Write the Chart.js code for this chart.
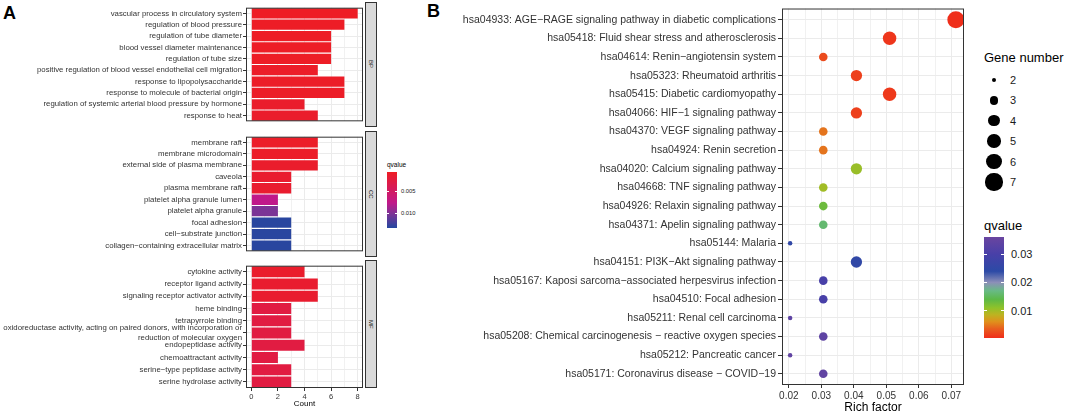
<!DOCTYPE html>
<html>
<head>
<meta charset="utf-8">
<script src="https://cdn.jsdelivr.net/npm/chart.js@4.4.1/dist/chart.umd.min.js"></script>
<style>
  body { margin: 0; background: #fff; font-family: "Liberation Sans", Arial, sans-serif; }
  #page { position: relative; width: 1065px; height: 415px; overflow: hidden; background: #fff; }
  canvas { position: absolute; }
  .abs { position: absolute; white-space: nowrap; line-height: 1; }
  .tag { font-weight: bold; font-size: 18px; color: #000; }
  .strip { position: absolute; background: #d9d9d9; border: 1px solid #333; box-sizing: border-box;
           display: flex; align-items: center; justify-content: center; }
  .strip span { writing-mode: vertical-rl; font-size: 6px; color: #1a1a1a; }
</style>
</head>
<body>
<div id="page">
  <div class="abs tag" style="left:3px;top:4px;">A</div>
  <div class="abs tag" style="left:427px;top:2px;">B</div>

  <canvas id="cvBP" width="380" height="125" style="left:0;top:2px;"></canvas>
  <canvas id="cvCC" width="380" height="126" style="left:0;top:131px;"></canvas>
  <canvas id="cvMF" width="380" height="149" style="left:0;top:260px;"></canvas>
  <div class="strip" style="left:365px;top:2px;width:12px;height:125px;"><span>BP</span></div>
  <div class="strip" style="left:365px;top:131px;width:12px;height:126px;"><span>CC</span></div>
  <div class="strip" style="left:365px;top:260px;width:12px;height:128px;"><span>MF</span></div>

  <canvas id="cvKegg" width="560" height="415" style="left:420px;top:0;"></canvas>
</div>
<script>
/*----------------------------------------------------------------------------*/
/* Data                                                                       */
/*----------------------------------------------------------------------------*/
// Panel A: GO terms, gene count and qvalue per facet
const bpTerms = ["vascular process in circulatory system", "regulation of blood pressure",
    "regulation of tube diameter", "blood vessel diameter maintenance", "regulation of tube size",
    "positive regulation of blood vessel endothelial cell migration", "response to lipopolysaccharide",
    "response to molecule of bacterial origin", "regulation of systemic arterial blood pressure by hormone",
    "response to heat"];
const bpCounts = [8, 7, 6, 6, 6, 5, 7, 7, 4, 5];
const bpQ = [0.0005, 0.0006, 0.0006, 0.0006, 0.0006, 0.0008, 0.0007, 0.0007, 0.0010, 0.0010];

const ccTerms = ["membrane raft", "membrane microdomain", "external side of plasma membrane", "caveola",
    "plasma membrane raft", "platelet alpha granule lumen", "platelet alpha granule", "focal adhesion",
    "cell\u2212substrate junction", "collagen\u2212containing extracellular matrix"];
const ccCounts = [5, 5, 5, 3, 3, 2, 2, 3, 3, 3];
const ccQ = [0.0008, 0.0008, 0.0010, 0.0012, 0.0012, 0.0075, 0.0100, 0.0130, 0.0130, 0.0130];

const mfTerms = ["cytokine activity", "receptor ligand activity", "signaling receptor activator activity",
    "heme binding", "tetrapyrrole binding",
    ["oxidoreductase activity, acting on paired donors, with incorporation or", "reduction of molecular oxygen"],
    "endopeptidase activity", "chemoattractant activity", "serine\u2212type peptidase activity",
    "serine hydrolase activity"];
const mfCounts = [4, 5, 5, 3, 3, 3, 4, 2, 3, 3];
const mfQ = [0.0010, 0.0012, 0.0012, 0.0025, 0.0025, 0.0025, 0.0025, 0.0025, 0.0025, 0.0025];

const countTicks = [0, 2, 4, 6, 8];
const qTicksA = [0.005, 0.010];

// Panel B: KEGG pathways
const keggTerms = ["hsa04933: AGE\u2212RAGE signaling pathway in diabetic complications",
    "hsa05418: Fluid shear stress and atherosclerosis", "hsa04614: Renin\u2212angiotensin system",
    "hsa05323: Rheumatoid arthritis", "hsa05415: Diabetic cardiomyopathy", "hsa04066: HIF\u22121 signaling pathway",
    "hsa04370: VEGF signaling pathway", "hsa04924: Renin secretion", "hsa04020: Calcium signaling pathway",
    "hsa04668: TNF signaling pathway", "hsa04926: Relaxin signaling pathway", "hsa04371: Apelin signaling pathway",
    "hsa05144: Malaria", "hsa04151: PI3K\u2212Akt signaling pathway",
    "hsa05167: Kaposi sarcoma\u2212associated herpesvirus infection", "hsa04510: Focal adhesion",
    "hsa05211: Renal cell carcinoma", "hsa05208: Chemical carcinogenesis \u2212 reactive oxygen species",
    "hsa05212: Pancreatic cancer", "hsa05171: Coronavirus disease \u2212 COVID\u221219"];
const richFactor = [0.0714, 0.0510, 0.0306, 0.0408, 0.0510, 0.0408, 0.0306, 0.0306, 0.0408, 0.0306,
    0.0306, 0.0306, 0.0204, 0.0408, 0.0306, 0.0306, 0.0204, 0.0306, 0.0204, 0.0306];
const geneNumber = [7, 5, 3, 4, 5, 4, 3, 3, 4, 3, 3, 3, 2, 4, 3, 3, 2, 3, 2, 3];
const keggQ = [0.0003, 0.0008, 0.0022, 0.0015, 0.0010, 0.0015, 0.0046, 0.0046, 0.0104, 0.0100,
    0.0130, 0.0160, 0.0250, 0.0250, 0.0300, 0.0300, 0.0340, 0.0340, 0.0345, 0.0345];

const richTicks = [0.02, 0.03, 0.04, 0.05, 0.06, 0.07];
const geneLegend = [2, 3, 4, 5, 6, 7];
const qTicksB = [0.01, 0.02, 0.03];

/*----------------------------------------------------------------------------*/
/* Colour scales                                                              */
/*----------------------------------------------------------------------------*/
const stopsA = [[0.00045, "#EE1D24"], [0.0075, "#C0188A"], [0.0100, "#7B3496"], [0.0132, "#2447A0"]];
const qRangeA = [0.00045, 0.0132];
const stopsB = [[0.0, "#F02A1A"], [0.0035, "#E85E1E"], [0.006, "#E0901C"], [0.0085, "#BDB321"],
    [0.011, "#8EC22A"], [0.014, "#5CB848"], [0.017, "#68BA84"], [0.020, "#8C8FB8"],
    [0.024, "#2C4AA6"], [0.030, "#4840A8"], [0.0362, "#6A45A0"]];
const qRangeB = [0.0002, 0.0362];

function hex_to_rgb(h) {
    const n = parseInt(h.slice(1), 16);
    return [(n >> 16) & 255, (n >> 8) & 255, n & 255];
}

function gradient_color(stops, v) {
    if (v <= stops[0][0]) return stops[0][1];
    for (let i = 1; i < stops.length; i++) {
        if (v <= stops[i][0]) {
            const t = (v - stops[i - 1][0]) / (stops[i][0] - stops[i - 1][0]);
            const a = hex_to_rgb(stops[i - 1][1]), b = hex_to_rgb(stops[i][1]);
            const c = a.map((x, k) => Math.round(x + (b[k] - x) * t));
            return `rgb(${c[0]},${c[1]},${c[2]})`;
        }
    }
    return stops[stops.length - 1][1];
}

// point size for gene number (area grows linearly, like ggplot's scale_size)
function bubble_radius(n) {
    return Math.sqrt(20 + (n - 2) * 54) / 2;
}

/*----------------------------------------------------------------------------*/
/* Shared bits                                                                */
/*----------------------------------------------------------------------------*/
Chart.defaults.font.family = '"Liberation Sans", Arial, sans-serif';
Chart.defaults.color = "#333";

const GRID = "#EBEBEB";
const INK = "#333";

const framePlugin = {
    id: "frame",
    afterDatasetsDraw(chart) {
        const a = chart.chartArea, ctx = chart.ctx;
        ctx.save();
        ctx.strokeStyle = INK;
        ctx.lineWidth = 1;
        ctx.strokeRect(a.left + 0.5, a.top + 0.5, a.right - a.left - 1, a.bottom - a.top - 1);
        ctx.restore();
    }
};

/*----------------------------------------------------------------------------*/
/* Panel A                                                                    */
/*----------------------------------------------------------------------------*/
function facet_chart(id, terms, counts, qs, showAxis) {
    return new Chart(document.getElementById(id), {
        type: "bar",
        data: {
            labels: terms,
            datasets: [{
                data: counts,
                backgroundColor: qs.map(q => gradient_color(stopsA, q)),
                barPercentage: 0.9,
                categoryPercentage: 1
            }]
        },
        options: {
            indexAxis: "y",
            responsive: false,
            animation: false,
            layout: { padding: { right: 17 } },
            plugins: { legend: { display: false }, tooltip: { enabled: false } },
            scales: {
                x: {
                    min: -0.4,
                    max: 8.4,
                    afterBuildTicks: s => {
                        const all = [];
                        for (let v = countTicks[0]; v <= countTicks[countTicks.length - 1]; v += 1) all.push({ value: v });
                        s.ticks = all;
                    },
                    afterFit: s => { s.height = showAxis ? 21 : 0; },
                    border: { display: false },
                    grid: {
                        color: GRID,
                        lineWidth: c => countTicks.includes(c.tick.value) ? 1 : 0.7,
                        drawTicks: showAxis,
                        tickLength: 3,
                        tickColor: c => countTicks.includes(c.tick.value) ? INK : "rgba(0,0,0,0)"
                    },
                    ticks: {
                        display: showAxis,
                        autoSkip: false,
                        maxRotation: 0,
                        padding: 1,
                        font: { size: 7.5 },
                        color: INK,
                        callback: v => countTicks.includes(v) ? String(v) : ""
                    },
                    title: {
                        display: showAxis,
                        text: "Count",
                        color: "#000",
                        font: { size: 8 },
                        padding: { top: 0, bottom: 0 }
                    }
                },
                y: {
                    afterFit: s => { s.width = 246; },
                    border: { display: false },
                    grid: { offset: false, color: GRID, tickLength: 3, tickColor: INK },
                    ticks: {
                        autoSkip: false,
                        padding: 1,
                        color: INK,
                        font: { size: 7.8, lineHeight: 1.2 }
                    }
                }
            }
        },
        plugins: [framePlugin]
    });
}

facet_chart("cvBP", bpTerms, bpCounts, bpQ, false);
facet_chart("cvCC", ccTerms, ccCounts, ccQ, false);
facet_chart("cvMF", mfTerms, mfCounts, mfQ, true);

/*----------------------------------------------------------------------------*/
/* Panel B                                                                    */
/*----------------------------------------------------------------------------*/
new Chart(document.getElementById("cvKegg"), {
    type: "bubble",
    data: {
        datasets: [{
            data: keggTerms.map((t, i) => ({ x: richFactor[i], y: i, r: bubble_radius(geneNumber[i]) })),
            backgroundColor: keggQ.map(q => gradient_color(stopsB, q)),
            borderWidth: 0,
            clip: 0
        }]
    },
    options: {
        responsive: false,
        animation: false,
        layout: { padding: { top: 4, right: 16 } },
        plugins: { legend: { display: false }, tooltip: { enabled: false } },
        scales: {
            x: {
                type: "linear",
                min: 0.0179,
                max: 0.0739,
                afterBuildTicks: s => {
                    const all = [];
                    richTicks.forEach((v, i) => {
                        all.push({ value: v });
                        if (i < richTicks.length - 1) all.push({ value: (v + richTicks[i + 1]) / 2 });
                    });
                    s.ticks = all;
                },
                afterFit: s => { s.height = 30; },
                border: { display: false },
                grid: {
                    color: GRID,
                    lineWidth: c => c.index % 2 === 0 ? 1 : 0.7,
                    tickLength: 3,
                    tickColor: c => c.index % 2 === 0 ? INK : "rgba(0,0,0,0)"
                },
                ticks: {
                    autoSkip: false,
                    maxRotation: 0,
                    padding: 2,
                    color: INK,
                    font: { size: 10 },
                    callback: (v, i) => i % 2 === 0 ? richTicks[i / 2].toFixed(2) : ""
                },
                title: {
                    display: true,
                    text: "Rich factor",
                    color: "#000",
                    font: { size: 12 },
                    padding: { top: 0, bottom: 0 }
                }
            },
            y: {
                type: "linear",
                reverse: true,
                min: -0.6,
                max: keggTerms.length - 0.4,
                afterBuildTicks: s => { s.ticks = keggTerms.map((t, i) => ({ value: i })); },
                afterFit: s => { s.width = 362; },
                border: { display: false },
                grid: { color: GRID, tickLength: 4, tickColor: INK },
                ticks: {
                    autoSkip: false,
                    padding: 2,
                    color: INK,
                    font: { size: 10.5 },
                    callback: v => keggTerms[v]
                }
            }
        }
    },
    plugins: [framePlugin]
});

/*----------------------------------------------------------------------------*/
/* Legends                                                                    */
/*----------------------------------------------------------------------------*/
const page = document.getElementById("page");

function add_text(text, left, centerY, size, color) {
    const d = document.createElement("div");
    d.className = "abs";
    d.textContent = text;
    d.style.left = left + "px";
    d.style.top = centerY + "px";
    d.style.transform = "translateY(-50%)";
    d.style.fontSize = size + "px";
    d.style.color = color || "#000";
    page.appendChild(d);
    return d;
}

function add_colorbar(cfg) {
    const span = cfg.range[1] - cfg.range[0];
    const bar = document.createElement("div");
    bar.className = "abs";
    bar.style.left = cfg.left + "px";
    bar.style.top = cfg.top + "px";
    bar.style.width = cfg.width + "px";
    bar.style.height = cfg.height + "px";
    const parts = cfg.stops.map(s => `${s[1]} ${((s[0] - cfg.range[0]) / span * 100).toFixed(2)}%`);
    bar.style.background = `linear-gradient(${cfg.reverse ? "to bottom" : "to top"}, ${parts.join(", ")})`;
    page.appendChild(bar);

    cfg.ticks.forEach(v => {
        const f = (v - cfg.range[0]) / span;
        const y = cfg.reverse ? cfg.top + f * cfg.height : cfg.top + cfg.height - f * cfg.height;
        [cfg.left, cfg.left + cfg.width - cfg.tick].forEach(x => {
            const m = document.createElement("div");
            m.className = "abs";
            m.style.left = x + "px";
            m.style.top = (y - 0.5) + "px";
            m.style.width = cfg.tick + "px";
            m.style.height = "1px";
            m.style.background = "#fff";
            page.appendChild(m);
        });
        add_text(cfg.format(v), cfg.left + cfg.width + cfg.gap, y, cfg.fontSize, "#1a1a1a");
    });
}

// Panel A qvalue legend (low values on top)
add_text("qvalue", 387, 165, 6.5);
add_colorbar({
    left: 387, top: 172, width: 10, height: 56, stops: stopsA, range: qRangeA,
    ticks: qTicksA, reverse: true, tick: 2, gap: 4, fontSize: 5.8, format: v => v.toFixed(3)
});

// Panel B size legend
add_text("Gene number", 984, 57, 13);
geneLegend.forEach((n, i) => {
    const cy = 80 + i * 20.4;
    const d = bubble_radius(n) * 2;
    const dot = document.createElement("div");
    dot.className = "abs";
    dot.style.left = (994 - d / 2) + "px";
    dot.style.top = (cy - d / 2) + "px";
    dot.style.width = d + "px";
    dot.style.height = d + "px";
    dot.style.borderRadius = "50%";
    dot.style.background = "#000";
    page.appendChild(dot);
    add_text(String(n), 1010, cy, 11, "#1a1a1a");
});

// Panel B qvalue legend
add_text("qvalue", 984, 225, 13);
add_colorbar({
    left: 984, top: 237, width: 20, height: 101, stops: stopsB, range: qRangeB,
    ticks: qTicksB, reverse: false, tick: 3, gap: 7, fontSize: 11, format: v => v.toFixed(2)
});
</script>
</body>
</html>
